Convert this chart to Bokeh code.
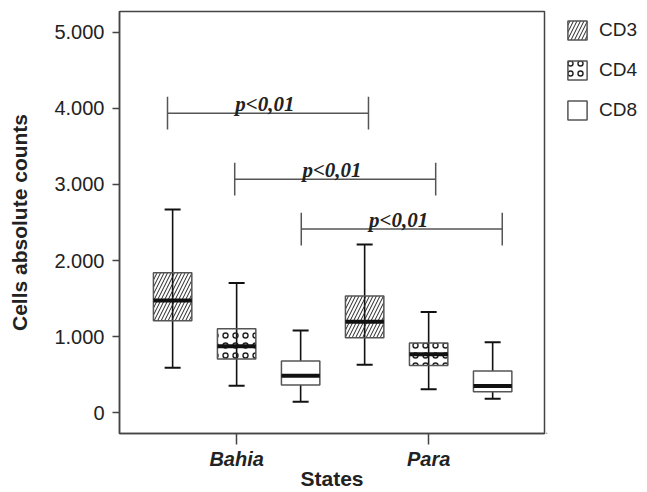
from bokeh.plotting import figure
from bokeh.layouts import row
from bokeh.models import FixedTicker, Legend, LegendItem, ColumnDataSource
from bokeh.core.properties import value
from bokeh.embed import file_html
from bokeh.resources import INLINE

# ---- data ----
states = ["Bahia", "Para"]
state_pos = [2, 5]
series = ["CD3", "CD4", "CD8"]
# box positions (Bahia: 1,2,3 ; Para: 4,5,6)
pos_cd3 = [1, 4]
pos_cd4 = [2, 5]
pos_cd8 = [3, 6]
# [min, q1, median, q3, max] per state
cd3_stats = [[590, 1210, 1475, 1840, 2670], [630, 985, 1195, 1535, 2210]]
cd4_stats = [[355, 705, 875, 1105, 1705], [310, 620, 770, 915, 1325]]
cd8_stats = [[145, 365, 485, 680, 1080], [185, 275, 350, 550, 925]]

y_ticks = [0, 1000, 2000, 3000, 4000, 5000]
y_tick_labels = ["0", "1.000", "2.000", "3.000", "4.000", "5.000"]

bracket_x0 = [0.92, 1.97, 3.01]
bracket_x1 = [4.06, 5.11, 6.15]
bracket_y = [3936, 3069, 2413]
bracket_label = ["p<0,01", "p<0,01", "p<0,01"]
bracket_tick = 215

p = figure(width=546, height=492, output_backend="svg", toolbar_location=None,
           x_range=(0.17, 6.81), y_range=(-273, 5273),
           min_border_left=119, min_border_right=2, min_border_top=11, min_border_bottom=55)
p.xgrid.visible = False
p.ygrid.visible = False
p.background_fill_color = "white"
p.border_fill_color = "white"
p.outline_line_color = "#444444"
p.outline_line_width = 1.5

# axes
for ax in (p.xaxis[0], p.yaxis[0]):
    ax.axis_line_color = "#444444"
    ax.axis_line_width = 1.5
    ax.major_tick_line_color = "#444444"
    ax.major_tick_line_width = 1.5
    ax.major_tick_in = 0
    ax.minor_tick_line_color = None

p.xaxis.ticker = FixedTicker(ticks=state_pos)
p.xaxis.major_label_overrides = {k: v for k, v in zip(state_pos, states)}
p.xaxis.major_label_text_font = "Liberation Sans"
p.xaxis.major_label_text_font_style = "bold italic"
p.xaxis.major_label_text_font_size = "20px"
p.xaxis.major_label_text_color = "#222222"
p.xaxis.major_tick_out = 11
p.xaxis.major_label_standoff = 3
p.xaxis.axis_label = "States"
p.xaxis.axis_label_text_font = "Liberation Sans"
p.xaxis.axis_label_text_font_style = "bold"
p.xaxis.axis_label_text_font_size = "21px"
p.xaxis.axis_label_text_color = "#222222"
p.xaxis.axis_label_standoff = -6

p.yaxis.ticker = FixedTicker(ticks=y_ticks)
p.yaxis.major_label_overrides = {k: v for k, v in zip(y_ticks, y_tick_labels)}
p.yaxis.major_label_text_font = "Liberation Sans"
p.yaxis.major_label_text_font_size = "20px"
p.yaxis.major_label_text_color = "#222222"
p.yaxis.major_tick_out = 7
p.yaxis.major_label_standoff = 8
p.yaxis.axis_label = "Cells absolute counts"
p.yaxis.axis_label_text_font = "Liberation Sans"
p.yaxis.axis_label_text_font_style = "bold"
p.yaxis.axis_label_text_font_size = "21px"
p.yaxis.axis_label_text_color = "#222222"
p.yaxis.axis_label_standoff = 20

styles = [
    (pos_cd3, cd3_stats, dict(fill_alpha=0, hatch_pattern="right_diagonal_line", hatch_scale=7, hatch_weight=1)),
    (pos_cd4, cd4_stats, dict(fill_alpha=0, hatch_pattern="ring", hatch_scale=10, hatch_weight=1.4)),
    (pos_cd8, cd8_stats, dict(fill_color="white", fill_alpha=1)),
]
box_line = dict(line_color="#555555", line_width=1.5, hatch_color="#222222")

for pos, stats, st in styles:
    src = ColumnDataSource(dict(
        x=pos,
        lo=[s[0] for s in stats], q1=[s[1] for s in stats], med=[s[2] for s in stats],
        q3=[s[3] for s in stats], hi=[s[4] for s in stats]))
    p.segment(x0="x", y0="lo", x1="x", y1="hi", source=src, line_color="#111111", line_width=1.6)
    p.scatter(x="x", y="lo", source=src, marker="dash", size=16, line_color="#111111", line_width=2)
    p.scatter(x="x", y="hi", source=src, marker="dash", size=16, line_color="#111111", line_width=2)
    p.vbar(x="x", bottom="q1", top="q3", width=0.6, source=src, **box_line, **st)
    p.rect(x="x", y="med", width=0.6, height=4, height_units="screen", source=src,
           fill_color="#111111", line_color=None)

# significance brackets
bsrc = ColumnDataSource(dict(
    x0=bracket_x0, x1=bracket_x1, y=bracket_y,
    ylo=[y - bracket_tick for y in bracket_y], yhi=[y + bracket_tick for y in bracket_y],
    xm=[(a + b) / 2 - 0.05 for a, b in zip(bracket_x0, bracket_x1)], label=bracket_label))
p.segment(x0="x0", y0="y", x1="x1", y1="y", source=bsrc, line_color="#555555", line_width=1.5)
p.segment(x0="x0", y0="ylo", x1="x0", y1="yhi", source=bsrc, line_color="#555555", line_width=1.5)
p.segment(x0="x1", y0="ylo", x1="x1", y1="yhi", source=bsrc, line_color="#555555", line_width=1.5)
p.text(x="xm", y="y", text="label", source=bsrc, text_align="center", text_baseline="alphabetic",
       y_offset=-9, text_font=value("Liberation Serif"), text_font_style="bold italic",
       text_font_size="21px", text_color="#222222")

# legend panel (separate figure next to the plot); its swatch glyphs sit outside the view
leg = figure(width=101, height=492, output_backend="svg", toolbar_location=None,
             x_axis_type=None, y_axis_type=None, x_range=(0, 1), y_range=(0, 1),
             min_border=0)
leg.outline_line_color = None
leg.xgrid.visible = False
leg.ygrid.visible = False
leg_renderers = []
for pos, stats, st in styles:
    leg_renderers.append(leg.vbar(x=[-10], bottom=[-10], top=[-9], width=0.6, **box_line, **st))
legend = Legend(items=[LegendItem(label=s, renderers=[r]) for s, r in zip(series, leg_renderers)],
                location=(19, 311), margin=0, padding=0, spacing=16,
                glyph_width=24, glyph_height=24, label_height=24, label_standoff=10,
                label_text_font="Liberation Sans", label_text_font_size="19px",
                label_text_color="#222222", border_line_color=None, background_fill_alpha=0)
leg.add_layout(legend)

layout = row(p, leg)
open("out.html", "w").write(file_html(layout, INLINE))
